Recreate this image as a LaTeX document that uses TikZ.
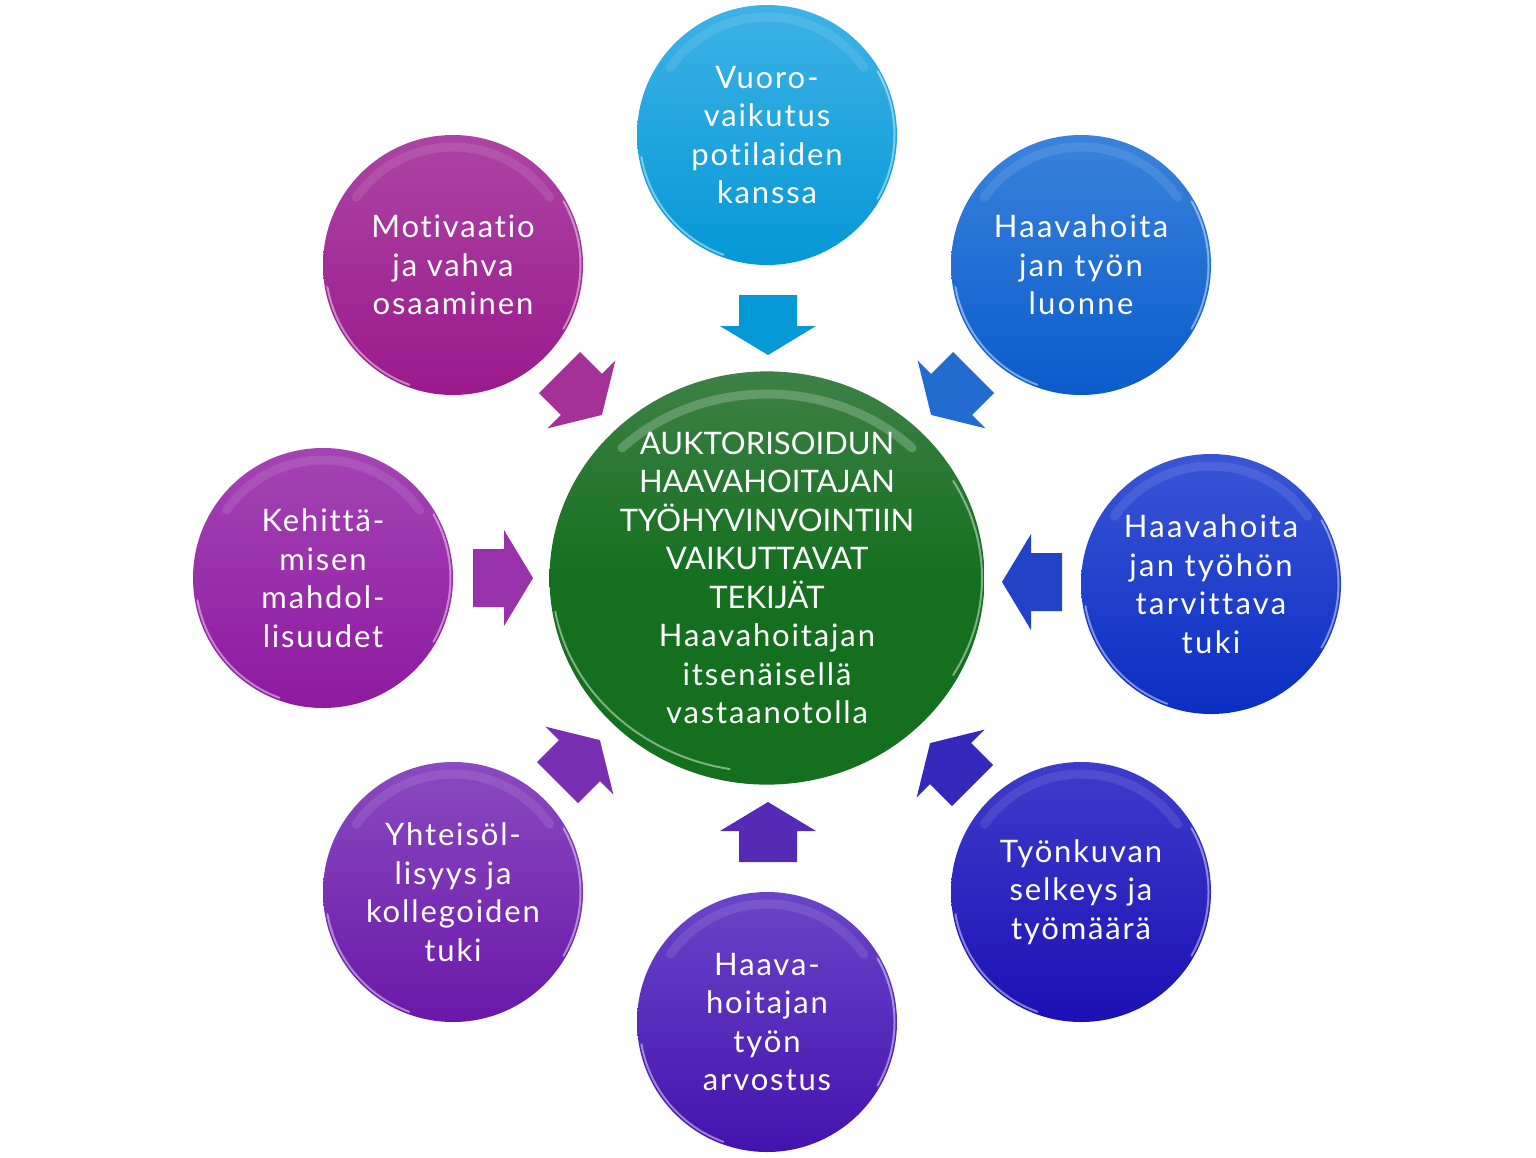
\documentclass[tikz,border=0pt]{standalone}
\usepackage{fontspec}
\setmainfont{Lato}[Ligatures=NoCommon]
\usetikzlibrary{shapes.geometric}
\definecolor{cAt}{HTML}{3DB2E6}\definecolor{cAb}{HTML}{0598D6}
\definecolor{cBt}{HTML}{3A82DC}\definecolor{cBb}{HTML}{0A5CCB}
\definecolor{cCt}{HTML}{3A55D6}\definecolor{cCb}{HTML}{0A2EC2}
\definecolor{cDt}{HTML}{3E3CCB}\definecolor{cDb}{HTML}{1C10B4}
\definecolor{cEt}{HTML}{6A45C8}\definecolor{cEb}{HTML}{4412AE}
\definecolor{cFt}{HTML}{8A4AC0}\definecolor{cFb}{HTML}{6A18A8}
\definecolor{cGt}{HTML}{A444B4}\definecolor{cGb}{HTML}{8E1AA0}
\definecolor{cHt}{HTML}{AC44A4}\definecolor{cHb}{HTML}{9A1A8C}
\definecolor{gT}{HTML}{3E8046}\definecolor{gB}{HTML}{14701E}
\newcommand\lsp{\addfontfeature{LetterSpace=6}}
\tikzset{
  x=1pt,y=-1pt,
  bubble/.style={circle, minimum size=260pt, inner sep=0pt, align=center,
    text=white, font=\fontsize{31}{38.5}\selectfont\addfontfeature{LetterSpace=6}},
  widebubble/.style={bubble, font=\fontsize{31}{38.5}\selectfont\addfontfeature{LetterSpace=7.5}},
  hub/.style={ellipse, minimum width=435pt, minimum height=393pt, inner sep=0pt,
    align=center, text=white, font=\fontsize{31}{38.5}\selectfont,
    top color=gT, bottom color=gB, middle color=gB},
  rim/.style={white, line width=2pt, opacity=0.45, line cap=round},
  gloss/.style={white, line width=9pt, opacity=0.10, line cap=round},
}
\newcommand\shine[3]{% node, rx, ry
  \draw[gloss] ([shift={(#1.center)}]215:#2-12 and #3-12) arc[start angle=215,end angle=325,x radius=#2-12,y radius=#3-12];
  \draw[rim] ([shift={(#1.center)}]110:#2-2.5 and #3-2.5) arc[start angle=110,end angle=170,x radius=#2-2.5,y radius=#3-2.5];
  \draw[rim] ([shift={(#1.center)}]-30:#2-2.5 and #3-2.5) arc[start angle=-30,end angle=30,x radius=#2-2.5,y radius=#3-2.5];
}
\newcommand\blockarrow[5]{% name, x, y, angle, colour
  \fill[#5, shift={(#2,#3)}, rotate=#4] (-29,-29) -- (2,-29) -- (2,-48) -- (31,0) -- (2,48) -- (2,29) -- (-29,29) -- cycle;
  \coordinate (#1) at (#2,#3);
}
\begin{document}
\begin{tikzpicture}
\useasboundingbox[fill=white] (0,0) rectangle (1536,1157);
% outer bubbles
\node[bubble, top color=cAt, bottom color=cAb] (nA) at (767,135) {Vuoro-\\vaikutus\\potilaiden\\kanssa};
\node[widebubble, top color=cBt, bottom color=cBb] (nB) at (1081,265) {Haavahoita\\jan työn\\luonne};
\node[widebubble, top color=cCt, bottom color=cCb] (nC) at (1211,584) {Haavahoita\\jan työhön\\tarvittava\\tuki};
\node[bubble, top color=cDt, bottom color=cDb] (nD) at (1081,892) {Työnkuvan\\selkeys ja\\työmäärä};
\node[bubble, top color=cEt, bottom color=cEb] (nE) at (767,1022) {Haava-\\hoitajan\\työn\\arvostus};
\node[bubble, top color=cFt, bottom color=cFb] (nF) at (453,892) {Yhteisöl-\\lisyys ja\\kollegoiden\\tuki};
\node[bubble, top color=cGt, bottom color=cGb] (nG) at (323,578) {Kehittä-\\misen\\mahdol-\\lisuudet};
\node[bubble, top color=cHt, bottom color=cHb] (nH) at (453,265) {Motivaatio\\ja vahva\\osaaminen};
\foreach \n in {nA,nB,nC,nD,nE,nF,nG,nH}{\shine{\n}{130}{130}}
% centre
\node[hub] (hub) at (767,578) {AUKTORISOIDUN\\HAAVAHOITAJAN\\TYÖHYVINVOINTIIN\\VAIKUTTAVAT\\TEKIJÄT\\\lsp Haavahoitajan\\\lsp itsenäisellä\\\lsp vastaanotolla};
\draw[gloss, opacity=0.22] ([shift={(hub.center)}]225:205 and 184) arc[start angle=225,end angle=315,x radius=205,y radius=184];
\draw[rim] ([shift={(hub.center)}]100:215 and 194) arc[start angle=100,end angle=170,x radius=215,y radius=194];
\draw[rim] ([shift={(hub.center)}]-30:215 and 194) arc[start angle=-30,end angle=30,x radius=215,y radius=194];
% block arrows
\blockarrow{aA}{768}{324}{-90}{cAb}
\blockarrow{aB}{953}{393}{-135}{cBb!90!white}
\blockarrow{aC}{1033}{582}{180}{cCb!90!white}
\blockarrow{aD}{952}{765}{135}{cDb!90!white}
\blockarrow{aE}{768}{833}{90}{cEb!90!white}
\blockarrow{aF}{578}{762}{45}{cFb!90!white}
\blockarrow{aG}{502}{578}{0}{cGb!90!white}
\blockarrow{aH}{580}{393}{-45}{cHb!90!white}
\end{tikzpicture}
\end{document}
